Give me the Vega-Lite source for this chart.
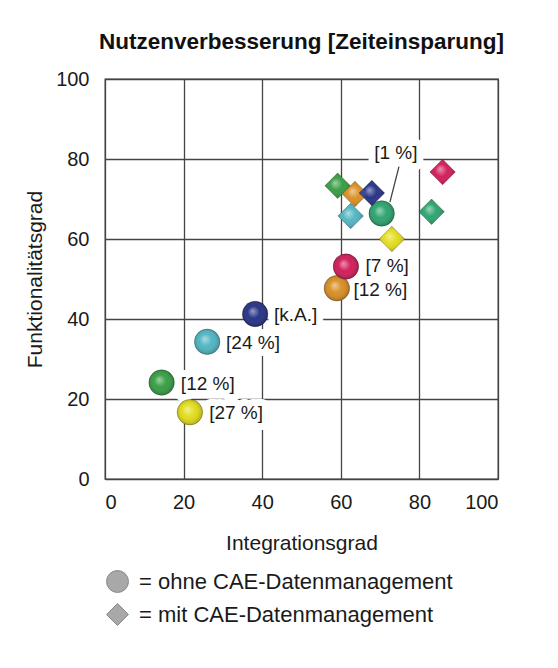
{
  "$schema": "https://vega.github.io/schema/vega-lite/v6.json",
  "autosize": "none",
  "width": 393,
  "height": 400,
  "padding": {"left": 105, "top": 79, "right": 60, "bottom": 189},
  "background": "white",
  "title": {
    "text": "Nutzenverbesserung [Zeiteinsparung]",
    "fontSize": 22.5,
    "fontWeight": "bold",
    "font": "Liberation Sans",
    "color": "#111",
    "anchor": "middle",
    "offset": 16
  },
  "config": {
    "font": "Liberation Sans",
    "view": {"stroke": "#444", "strokeWidth": 1.3},
    "axis": {
      "domain": false,
      "ticks": false,
      "gridColor": "#444",
      "gridWidth": 1.3,
      "gridOpacity": 1,
      "labelFontSize": 20,
      "labelColor": "#1a1a1a",
      "titleFontSize": 21,
      "titleFontWeight": "normal",
      "titleColor": "#1a1a1a"
    }
  },
  "datasets": {
    "punkte": [
      {"unternehmen": "U1", "typ": "ohne", "integration": 14.4, "funktion": 24.1},
      {"unternehmen": "U2", "typ": "ohne", "integration": 21.6, "funktion": 16.7},
      {"unternehmen": "U3", "typ": "ohne", "integration": 26.0, "funktion": 34.3},
      {"unternehmen": "U4", "typ": "ohne", "integration": 38.2, "funktion": 41.25},
      {"unternehmen": "U5", "typ": "ohne", "integration": 59.0, "funktion": 47.7},
      {"unternehmen": "U6", "typ": "ohne", "integration": 61.3, "funktion": 53.1},
      {"unternehmen": "U7", "typ": "ohne", "integration": 70.4, "funktion": 66.4},
      {"unternehmen": "U1", "typ": "mit", "integration": 59.2, "funktion": 73.3},
      {"unternehmen": "U5", "typ": "mit", "integration": 63.6, "funktion": 71.25},
      {"unternehmen": "U4", "typ": "mit", "integration": 67.9, "funktion": 71.5},
      {"unternehmen": "U3", "typ": "mit", "integration": 62.5, "funktion": 65.75},
      {"unternehmen": "U2", "typ": "mit", "integration": 73.0, "funktion": 60.0},
      {"unternehmen": "U7", "typ": "mit", "integration": 83.1, "funktion": 66.8},
      {"unternehmen": "U6", "typ": "mit", "integration": 85.9, "funktion": 76.75}
    ],
    "beschriftung": [
      {"text": "[12 %]", "integration": 19.3, "funktion": 23.75},
      {"text": "[27 %]", "integration": 26.5, "funktion": 16.5},
      {"text": "[24 %]", "integration": 30.8, "funktion": 34.0},
      {"text": "[k.A.]", "integration": 43.0, "funktion": 41.0},
      {"text": "[12 %]", "integration": 63.2, "funktion": 47.25},
      {"text": "[7 %]", "integration": 66.3, "funktion": 53.25},
      {"text": "[1 %]", "integration": 68.5, "funktion": 81.4}
    ],
    "linie": [
      {"integration": 74.8, "funktion": 78.1, "integration2": 72.5, "funktion2": 69.2}
    ]
  },
  "encoding": {
    "x": {
      "field": "integration",
      "type": "quantitative",
      "scale": {"domain": [0, 100], "nice": false},
      "axis": {"values": [0, 20, 40, 60, 80, 100], "title": "Integrationsgrad", "labelPadding": 13, "titlePadding": 20}
    },
    "y": {
      "field": "funktion",
      "type": "quantitative",
      "scale": {"domain": [0, 100], "nice": false},
      "axis": {"values": [0, 20, 40, 60, 80, 100], "title": "Funktionalitätsgrad", "labelPadding": 16, "titlePadding": 10}
    }
  },
  "layer": [
    {
      "data": {"name": "beschriftung"},
      "mark": {"type": "text", "align": "left", "baseline": "middle", "fontSize": 19, "fill": "white", "stroke": "white", "strokeWidth": 14, "strokeJoin": "round"},
      "encoding": {"text": {"field": "text"}}
    },
    {
      "data": {"name": "linie"},
      "mark": {"type": "rule", "color": "#444", "strokeWidth": 1.3},
      "encoding": {
        "x2": {"field": "integration2"},
        "y2": {"field": "funktion2"}
      }
    },
    {
      "data": {"name": "punkte"},
      "mark": {"type": "point", "filled": true, "opacity": 1, "size": 650, "stroke": "#000", "strokeOpacity": 0.25, "strokeWidth": 1},
      "encoding": {
        "color": {
          "field": "unternehmen",
          "type": "nominal",
          "scale": {"domain": ["U1", "U2", "U3", "U4", "U5", "U6", "U7"], "range": ["#2f9a3c", "#e2dc12", "#4ab3c0", "#1e2a80", "#d88b1c", "#d01454", "#25a06a"]},
          "legend": null
        },
        "shape": {
          "field": "typ",
          "type": "nominal",
          "scale": {"domain": ["ohne", "mit"], "range": ["circle", "diamond"]},
          "legend": {
            "orient": "none",
            "legendX": 1,
            "legendY": 491,
            "direction": "vertical",
            "title": null,
            "padding": 0,
            "rowPadding": 6,
            "symbolSize": 480,
            "symbolFillColor": "#a8a8a8",
            "symbolStrokeColor": "#888",
            "symbolStrokeWidth": 1,
            "labelFontSize": 22,
            "labelLimit": 0,
            "labelColor": "#1a1a1a",
            "labelOffset": 10,
            "labelExpr": "'= ' + datum.label + ' CAE-Datenmanagement'"
          }
        }
      }
    },
    {
      "data": {"name": "punkte"},
      "mark": {
        "type": "point",
        "filled": true,
        "size": 650,
        "fill": {
          "gradient": "radial",
          "x1": 0.4, "y1": 0.38, "r1": 0,
          "x2": 0.5, "y2": 0.5, "r2": 0.55,
          "stops": [
            {"offset": 0, "color": "rgba(255,255,255,0.55)"},
            {"offset": 0.45, "color": "rgba(255,255,255,0.05)"},
            {"offset": 1, "color": "rgba(0,0,0,0.3)"}
          ]
        },
        "opacity": 1
      },
      "encoding": {
        "shape": {"field": "typ", "type": "nominal"}
      }
    },
    {
      "data": {"name": "beschriftung"},
      "mark": {"type": "text", "align": "left", "baseline": "middle", "fontSize": 19, "color": "#1a1a1a"},
      "encoding": {"text": {"field": "text"}}
    }
  ]
}
